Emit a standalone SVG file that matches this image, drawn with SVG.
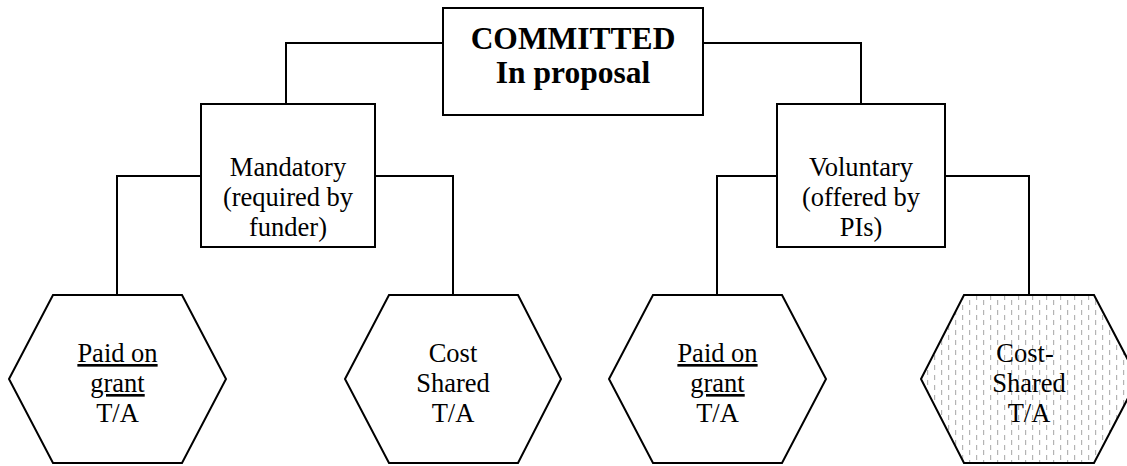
<svg xmlns="http://www.w3.org/2000/svg" width="1127" height="466" viewBox="0 0 1127 466">
<style>
.shape{fill:#fff;stroke:#000;stroke-width:2}
.conn{fill:none;stroke:#000;stroke-width:2}
.t{font-size:26.5px;fill:#000;text-anchor:middle}
.b{font-size:31.5px;font-weight:bold;fill:#000;text-anchor:middle}
.u{text-decoration:underline}
</style>
<defs>
<pattern id="dash" width="14" height="10" patternUnits="userSpaceOnUse">
<rect width="14" height="10" fill="#fff"/>
<rect x="3" y="0" width="1.2" height="5" fill="#b4b4b4"/>
<rect x="10" y="5" width="1.2" height="5" fill="#b4b4b4"/>
</pattern>
</defs>
<rect width="1127" height="466" fill="#fff"/>
<g id="connectors">
<polyline class="conn" points="443,43 286,43 286,104"/>
<polyline class="conn" points="703,43 861,43 861,104"/>
<polyline class="conn" points="201,176 117,176 117,295"/>
<polyline class="conn" points="368,176 453,176 453,295"/>
<polyline class="conn" points="777,176 717,176 717,295"/>
<polyline class="conn" points="945,176 1029,176 1029,295"/>
</g>
<g font-family="Liberation Serif, Tinos, DejaVu Serif, serif">
<g id="committed">
<rect class="shape" x="443" y="8" width="260" height="107"/>
<text class="b" x="573" y="49">COMMITTED</text>
<text class="b" x="573" y="83">In proposal</text>
</g>
<g id="mandatory">
<rect class="shape" x="201" y="104" width="174" height="143"/>
<text class="t" x="288" y="176">Mandatory</text>
<text class="t" x="288" y="206">(required by</text>
<text class="t" x="288" y="236">funder)</text>
</g>
<g id="voluntary">
<rect class="shape" x="777" y="104" width="168" height="143"/>
<text class="t" x="861" y="176">Voluntary</text>
<text class="t" x="861" y="206">(offered by</text>
<text class="t" x="861" y="236">PIs)</text>
</g>
<g id="m-paid">
<polygon class="shape" points="9,379 53,295 182,295 226,379 182,463 53,463"/>
<text class="t u" x="117.5" y="362">Paid on</text>
<text class="t u" x="117.5" y="392">grant</text>
<text class="t" x="117.5" y="422">T/A</text>
</g>
<g id="m-cost">
<polygon class="shape" points="345,379 389,295 518,295 561,379 518,463 389,463"/>
<text class="t" x="453" y="362">Cost</text>
<text class="t" x="453" y="392">Shared</text>
<text class="t" x="453" y="422">T/A</text>
</g>
<g id="v-paid">
<polygon class="shape" points="609,379 653,295 782,295 826,379 782,463 653,463"/>
<text class="t u" x="717.5" y="362">Paid on</text>
<text class="t u" x="717.5" y="392">grant</text>
<text class="t" x="717.5" y="422">T/A</text>
</g>
<g id="v-cost">
<polygon class="shape" style="fill:url(#dash)" points="921,379 964,295 1094,295 1138,379 1094,463 964,463"/>
<text class="t" x="1025" y="362">Cost-</text>
<text class="t" x="1029" y="392">Shared</text>
<text class="t" x="1029" y="422">T/A</text>
</g>
</g>
</svg>
